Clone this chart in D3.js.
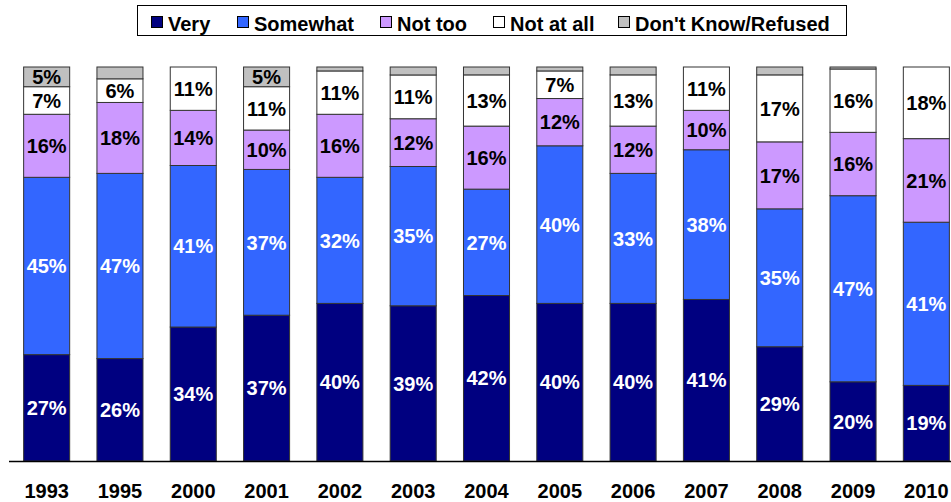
<!DOCTYPE html>
<html>
<head>
<meta charset="utf-8">
<script src="https://cdn.jsdelivr.net/npm/d3@7"></script>
<style>
  body { margin: 0; background: #fff; }
  text { font-family: Arial, "Liberation Sans", sans-serif; font-weight: bold; }
</style>
</head>
<body>
<div id="chart"></div>
<script>
// survey answers per year, in percent
var years = ["1993", "1995", "2000", "2001", "2002", "2003", "2004", "2005", "2006", "2007", "2008", "2009", "2010"];
var very = [27, 26, 34, 37, 40, 39, 42, 40, 40, 41, 29, 20, 19];
var somewhat = [45, 47, 41, 37, 32, 35, 27, 40, 33, 38, 35, 47, 41];
var notToo = [16, 18, 14, 10, 16, 12, 16, 12, 12, 10, 17, 16, 21];
var notAtAll = [7, 6, 11, 11, 11, 11, 13, 7, 13, 11, 17, 16, 18];
var dontKnow = [5, 3, 0, 5, 1, 2, 2, 1, 2, 0, 2, 0.5, 0];
// only these DK values carry a label in the original
var dkLabelled = ["1993", "2001"];

var seriesNames = ["Very", "Somewhat", "Not too", "Not at all", "Don't Know/Refused"];
var seriesColors = ["#000080", "#3366ff", "#cc99ff", "#ffffff", "#c0c0c0"];
var textColors = ["#fff", "#fff", "#000", "#000", "#000"];

var width = 951, height = 502;
var svg = d3.select("#chart").append("svg")
    .attr("width", width)
    .attr("height", height);

var table = years.map(function(y, i) {
  return { year: y, s0: very[i], s1: somewhat[i], s2: notToo[i], s3: notAtAll[i], s4: dontKnow[i] };
});

// 100% stacked, like the spreadsheet chart
var stack = d3.stack()
    .keys(["s0", "s1", "s2", "s3", "s4"])
    .offset(d3.stackOffsetExpand);
var layers = stack(table);

var x = d3.scaleBand()
    .domain(years)
    .range([10, 963])
    .paddingInner(0.372)
    .paddingOuter(0.186);

var y = d3.scaleLinear()
    .domain([0, 1])
    .range([461, 67]);

var groups = svg.selectAll("g.layer")
    .data(layers)
    .enter()
    .append("g")
    .attr("class", "layer")
    .attr("fill", function(d, i) { return seriesColors[i]; });

groups.selectAll("rect")
    .data(function(d) { return d; })
    .enter()
    .append("rect")
    .attr("x", function(d) { return x(d.data.year); })
    .attr("y", function(d) { return y(d[1]); })
    .attr("width", x.bandwidth())
    .attr("height", function(d) { return y(d[0]) - y(d[1]); })
    .attr("stroke", "#333")
    .attr("stroke-width", 1);

/*------segment labels------*/
groups.each(function(layer, li) {
  var key = layer.key;
  d3.select(this).selectAll("text")
    .data(layer.filter(function(d) {
      if (li == 4) return dkLabelled.indexOf(d.data.year) >= 0;
      return d.data[key] > 0;
    }))
    .enter()
    .append("text")
    .attr("x", function(d) { return x(d.data.year) + x.bandwidth() / 2; })
    .attr("y", function(d) { return (y(d[0]) + y(d[1])) / 2; })
    .attr("dy", "0.36em")
    .attr("text-anchor", "middle")
    .attr("font-size", "20px")
    .attr("fill", textColors[li])
    .text(function(d) { return d.data[key] + "%"; });
});

/*------axis------*/
var xAxis = svg.append("g")
    .attr("transform", "translate(0,461)")
    .call(d3.axisBottom(x).tickSize(0).tickPadding(23));
xAxis.select(".domain").attr("d", "M9,0.5H951").attr("stroke", "#000").attr("stroke-width", 1.5);
xAxis.selectAll("text")
    .attr("font-size", "20px")
    .attr("font-family", "Arial, 'Liberation Sans', sans-serif")
    .attr("font-weight", "bold")
    .attr("fill", "#000");

/*------legend------*/
var legend = svg.append("g");
legend.append("rect")
    .attr("x", 137.5).attr("y", 5.5)
    .attr("width", 709).attr("height", 30)
    .attr("fill", "#fff").attr("stroke", "#000");

var legendX = [151, 237, 380, 493, 618];
seriesNames.forEach(function(name, i) {
  legend.append("rect")
    .attr("x", legendX[i] + 0.5).attr("y", 16.5)
    .attr("width", 11).attr("height", 11)
    .attr("fill", seriesColors[i]).attr("stroke", "#000");
  legend.append("text")
    .attr("x", legendX[i] + 17).attr("y", 31)
    .attr("font-size", "20px")
    .text(name);
});
</script>
</body>
</html>
